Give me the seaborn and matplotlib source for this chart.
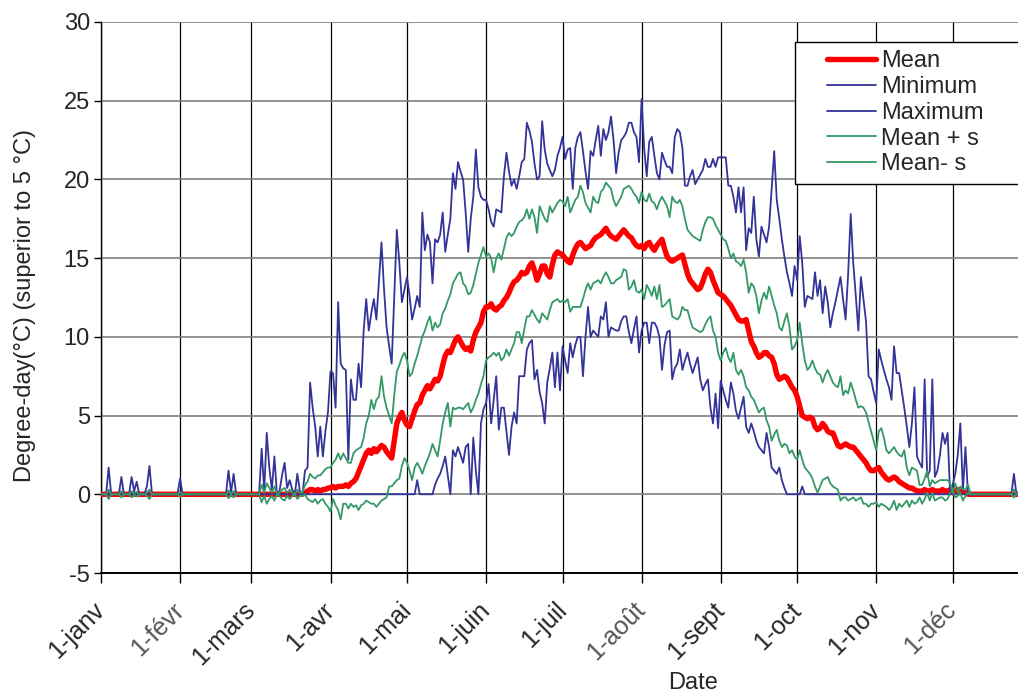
import numpy as np
import matplotlib
matplotlib.use("Agg")
import matplotlib.pyplot as plt
from matplotlib.lines import Line2D
from matplotlib.legend_handler import HandlerLine2D
import seaborn as sns

# Calendar axis: first day of each month (day-of-year index, 0 = 1 January)
month_starts = [0, 31, 59, 90, 120, 151, 181, 212, 243, 273, 304, 334]
month_labels = ["1-janv", "1-févr", "1-mars", "1-avr", "1-mai", "1-juin",
                "1-juil", "1-août", "1-sept", "1-oct", "1-nov", "1-déc"]

# Daily degree-days above 5 °C, one value per day of the year
mean_dd = [
    # janv
    0, 0, 0, 0, 0, 0, 0, 0, 0, 0, 0, 0, 0, 0, 0, 0, 0, 0, 0, 0,
    0, 0, 0, 0, 0, 0, 0, 0, 0, 0, 0,
    # févr
    0, 0, 0, 0, 0, 0, 0, 0, 0, 0, 0, 0, 0, 0, 0, 0, 0, 0, 0, 0,
    0, 0, 0, 0, 0, 0, 0, 0,
    # mars
    0, 0, 0, 0, 0, 0, 0, 0, 0, 0, 0, 0, 0, 0, 0, 0, 0, 0, 0, 0, 0,
    0.1, 0.2, 0.3, 0.3, 0.2, 0.3, 0.2, 0.3, 0.3, 0.4,
    # avr
    0.4, 0.5, 0.4, 0.5, 0.5, 0.5, 0.6, 0.5, 0.7, 0.8,
    1.0, 1.4, 1.8, 2.2, 2.6, 2.8, 2.6, 2.9, 2.7, 2.9,
    3.1, 3.0, 2.7, 2.5, 2.3, 3.4, 4.5, 4.9, 5.2, 4.7,
    # mai
    4.4, 4.3, 4.8, 5.3, 5.7, 5.8, 6.3, 6.6, 6.9, 6.7,
    7.0, 7.3, 7.2, 7.5, 8.2, 8.8, 9.1, 9.0, 9.4, 9.8,
    10.0, 9.7, 9.4, 9.2, 9.3, 9.1, 9.8, 10.3, 10.6, 10.9, 11.6,
    # juin
    11.9, 11.9, 12.1, 11.8, 11.7, 11.9, 12.0, 12.3, 12.5, 12.8,
    13.2, 13.5, 13.6, 13.8, 14.1, 14.0, 14.1, 14.5, 14.7, 14.2,
    13.6, 14.0, 14.5, 14.5, 14.0, 13.8, 14.6, 15.2, 15.4, 15.3,
    # juil
    15.2, 15.0, 14.8, 14.7, 15.2, 15.6, 15.9, 16.0, 15.8, 15.6,
    15.7, 15.8, 16.1, 16.3, 16.4, 16.5, 16.7, 16.9, 16.6, 16.4,
    16.3, 16.2, 16.4, 16.6, 16.8, 16.6, 16.4, 16.3, 16.0, 15.8, 15.7,
    # août
    15.8, 15.6, 15.9, 16.0, 15.7, 15.5, 15.8, 16.0, 16.2, 15.6,
    15.1, 14.9, 14.8, 14.9, 15.0, 15.1, 15.2, 14.6, 14.0, 13.6,
    13.4, 13.2, 13.0, 13.1, 13.5, 14.0, 14.3, 14.1, 13.6, 13.2, 12.8,
    # sept
    12.7, 12.6, 12.4, 12.2, 12.0, 11.7, 11.4, 11.1, 11.0, 11.0,
    11.1, 10.4, 9.7, 9.4, 9.0, 8.7, 8.8, 9.0, 9.0, 8.8,
    8.7, 8.3, 7.6, 7.3, 7.4, 7.5, 7.4, 7.1, 6.8, 6.6,
    # oct
    6.2, 5.6, 5.0, 4.9, 4.8, 4.9, 4.8, 4.3, 4.1, 4.2,
    4.5, 4.3, 4.0, 3.9, 3.9, 3.5, 3.1, 3.0, 3.1, 3.2,
    3.1, 3.0, 3.0, 2.8, 2.6, 2.4, 2.2, 2.0, 1.7, 1.5, 1.5,
    # nov
    1.6, 1.7, 1.4, 1.2, 1.0, 0.9, 1.0, 1.1, 1.0, 0.8,
    0.7, 0.6, 0.5, 0.4, 0.4, 0.3, 0.2, 0.2, 0.2, 0.3,
    0.2, 0.2, 0.3, 0.2, 0.2, 0.2, 0.3, 0.2, 0.2, 0.3,
    # déc
    0.1, 0.2, 0.3, 0.1, 0.2, 0.1, 0, 0, 0, 0,
    0, 0, 0, 0, 0, 0, 0, 0, 0, 0,
    0, 0, 0, 0, 0, 0, 0, 0, 0, 0, 0,
]

min_dd = [
    # janv
    0, 0, 0, 0, 0, 0, 0, 0, 0, 0, 0, 0, 0, 0, 0, 0, 0, 0, 0, 0,
    0, 0, 0, 0, 0, 0, 0, 0, 0, 0, 0,
    # févr
    0, 0, 0, 0, 0, 0, 0, 0, 0, 0, 0, 0, 0, 0, 0, 0, 0, 0, 0, 0,
    0, 0, 0, 0, 0, 0, 0, 0,
    # mars
    0, 0, 0, 0, 0, 0, 0, 0, 0, 0, 0, 0, 0, 0, 0, 0, 0, 0, 0, 0,
    0, 0, 0, 0, 0, 0, 0, 0, 0, 0, 0,
    # avr
    0, 0, 0, 0, 0, 0, 0, 0, 0, 0, 0, 0, 0, 0, 0, 0, 0, 0, 0, 0,
    0, 0, 0, 0, 0, 0, 0, 0, 0, 0,
    # mai
    0, 0, 0, 0, 0.9, 0, 0, 0, 0, 0,
    0, 0.6, 1.0, 1.3, 1.8, 2.4, 1.2, 0.0, 2.8, 2.4,
    3.0, 2.5, 2.0, 3.0, 3.2, 0.0, 3.6, 1.5, 0.0, 4.5, 5.4,
    # juin
    5.8, 7.0, 4.5, 6.0, 7.5, 4.1, 5.5, 5.5, 4.0, 2.5,
    4.3, 5.2, 4.5, 7.5, 7.5, 7.5, 9.2, 9.6, 9.8, 7.3,
    7.9, 6.5, 5.8, 4.5, 7.1, 8.0, 9.0, 6.8, 9.0, 6.6,
    # juil
    9.4, 8.5, 7.7, 9.6, 8.7, 9.5, 10.0, 10.0, 7.5, 10.0,
    11.9, 10.0, 10.4, 10.2, 10.0, 11.3, 11.1, 12.2, 10.0, 10.6,
    10.5, 10.4, 10.4, 11.0, 11.3, 11.3, 10.3, 9.6, 10.5, 11.3, 9.0,
    # août
    10.4, 10.9, 10.9, 9.6, 10.9, 10.9, 10.6, 10.0, 7.9, 9.5,
    10.3, 10.4, 7.3, 8.0, 8.3, 9.2, 7.9, 8.5, 9.0, 8.3,
    7.7, 8.2, 8.7, 7.3, 6.6, 7.0, 7.3, 5.5, 4.5, 6.4, 4.2,
    # sept
    7.2, 6.6, 6.0, 5.5, 7.1, 6.4, 5.3, 4.8, 5.5, 6.2,
    4.3, 3.9, 4.5, 4.0, 3.4, 3.0, 2.8, 2.6, 3.9, 3.0,
    1.7, 1.5, 1.3, 1.7, 0.9, 0.4, 0, 0, 0, 0,
    # oct
    0, 0, 0.5, 0, 0, 0, 0, 0, 0, 0,
    0, 0, 0, 0, 0, 0, 0, 0, 0, 0,
    0, 0, 0, 0, 0, 0, 0, 0, 0, 0, 0,
    # nov
    0, 0, 0, 0, 0, 0, 0, 0, 0, 0, 0, 0, 0, 0, 0, 0, 0, 0, 0, 0,
    0, 0, 0, 0, 0, 0, 0, 0, 0, 0,
    # déc
    0, 0, 0, 0, 0, 0, 0, 0, 0, 0, 0, 0, 0, 0, 0, 0, 0, 0, 0, 0,
    0, 0, 0, 0, 0, 0, 0, 0, 0, 0, 0,
]

max_dd = [
    # janv
    0, 0, 0, 1.7, 0, 0, 0, 0, 1.1, 0,
    0, 0, 1.1, 0.2, 0.8, 0, 0, 0, 0.5, 1.8,
    0, 0, 0, 0, 0, 0, 0, 0, 0, 0, 0,
    # févr
    1.0, 0, 0, 0, 0, 0, 0, 0, 0, 0, 0, 0, 0, 0, 0, 0, 0, 0, 0,
    1.5, 0.1, 1.3, 0, 0, 0, 0, 0, 0,
    # mars
    0, 0, 0, 0, 2.9, 0.2, 3.9, 1.7, 0.3, 2.4,
    0.0, 0.2, 1.2, 2.0, 0.4, 0.9, 0.3, 0.0, 1.3, 0.2,
    0.0, 1.5, 1.7, 7.1, 5.5, 4.3, 2.4, 4.3, 2.4, 4.0, 5.2,
    # avr
    7.8, 7.7, 5.5, 12.2, 8.3, 8.0, 7.9, 2.2, 7.3, 6.0,
    6.0, 8.3, 6.8, 10.4, 12.4, 10.4, 11.5, 12.4, 11.1, 13.6,
    16.0, 13.0, 10.6, 9.4, 8.3, 12.5, 16.8, 14.7, 12.2, 13.0,
    # mai
    13.8, 12.6, 11.1, 11.8, 12.6, 11.9, 17.9, 15.5, 16.5, 16.0,
    13.4, 16.2, 16.0, 16.5, 17.9, 15.4, 16.5, 17.5, 20.4, 19.4,
    21.1, 20.5, 20.0, 17.9, 15.4, 17.5, 18.9, 21.9, 19.5, 18.9, 18.7,
    # juin
    18.7, 18.1, 17.3, 17.0, 18.1, 18.0, 17.9, 20.2, 21.7, 20.5,
    19.6, 20.0, 19.4, 20.2, 21.1, 21.3, 23.6, 23.1, 22.4, 21.0,
    20.0, 20.2, 23.7, 21.9, 21.0, 20.6, 20.2, 20.6, 21.5, 22.0,
    # juil
    22.7, 21.3, 21.9, 22.0, 19.4, 22.0, 22.7, 23.0, 21.8, 20.5,
    19.4, 21.8, 21.5, 22.5, 23.4, 21.5, 23.2, 22.5, 23.0, 24.0,
    22.5, 20.4, 21.7, 22.5, 22.7, 23.0, 23.6, 23.6, 23.0, 22.7, 21.1,
    # août
    25.1, 22.0, 20.2, 22.4, 22.7, 21.5, 20.4, 20.0, 21.7, 21.2,
    20.8, 20.8, 20.4, 22.7, 23.2, 23.0, 22.0, 19.6, 19.6, 20.2,
    20.6, 19.7, 20.0, 20.3, 20.6, 21.3, 20.8, 20.8, 21.3, 20.8, 21.4,
    # sept
    21.4, 21.4, 21.4, 19.6, 19.6, 18.9, 17.9, 19.5, 17.9, 19.5,
    15.5, 16.9, 16.6, 18.9, 16.2, 15.1, 17.0, 16.5, 16.0, 17.0,
    19.4, 21.8, 18.7, 17.5, 16.2, 15.1, 14.1, 13.4, 12.6, 14.5,
    # oct
    13.6, 16.4, 14.7, 11.9, 12.6, 12.5, 12.4, 14.1, 12.6, 13.6,
    11.5, 13.2, 12.2, 10.6, 11.5, 12.2, 13.0, 13.8, 12.4, 11.1,
    14.0, 17.8, 14.7, 12.6, 10.4, 13.8, 12.4, 11.0, 7.5, 7.3, 6.5,
    # nov
    5.8, 9.2, 8.5, 7.9, 7.3, 6.8, 6.0, 9.4, 7.7, 7.7,
    6.6, 5.5, 4.3, 3.0, 4.5, 6.8, 2.4, 2.0, 1.7, 7.3,
    1.1, 1.5, 7.3, 1.1, 1.5, 2.5, 3.9, 3.2, 3.9, 0.0,
    # déc
    0.6, 1.3, 2.5, 4.5, 0.2, 3.0, 0, 0, 0, 0,
    0, 0, 0, 0, 0, 0, 0, 0, 0, 0,
    0, 0, 0, 0, 1.3, 0, 0, 0, 0, 0, 0,
]

mean_plus_s = [
    # janv
    0, 0, 0, 0.3, 0, 0, 0, 0, 0.2, 0,
    0, 0, 0.2, 0.05, 0.15, 0, 0, 0, 0.1, 0.3,
    0, 0, 0, 0, 0, 0, 0, 0, 0, 0, 0,
    # févr
    0.15, 0, 0, 0, 0, 0, 0, 0, 0, 0, 0, 0, 0, 0, 0, 0, 0, 0, 0,
    0.25, 0.02, 0.2, 0, 0, 0, 0, 0, 0,
    # mars
    0, 0, 0, 0, 0.6, 0.1, 0.7, 0.4, 0.1, 0.5,
    0.0, 0.1, 0.3, 0.4, 0.1, 0.3, 0.1, 0.0, 0.3, 0.1,
    0.1, 0.6, 0.8, 1.3, 1.1, 1.0, 1.2, 1.2, 1.4, 1.6, 1.7,
    # avr
    1.7, 2.0, 2.2, 2.6, 2.2, 2.6, 2.3, 2.0, 2.0, 2.6,
    2.8, 2.9, 3.0, 3.6, 4.5, 5.0, 6.0, 5.4, 6.0, 6.2,
    7.5, 6.2, 5.5, 5.0, 4.5, 6.3, 7.8, 8.2, 8.7, 9.0,
    # mai
    8.5, 7.5, 7.7, 8.3, 8.8, 9.4, 10.0, 10.4, 10.9, 11.3,
    10.4, 10.9, 10.6, 10.8, 11.5, 11.8, 12.3, 12.7, 13.4, 13.7,
    14.0, 14.1, 13.4, 13.2, 12.7, 12.8, 13.3, 14.0, 14.7, 15.2, 15.7,
    # juin
    15.1, 15.3, 15.0, 14.1, 15.0, 15.3, 14.9, 15.6, 16.3, 16.6,
    16.4, 16.6, 17.0, 17.3, 17.4, 17.6, 18.1, 17.5, 18.1, 17.6,
    16.6, 18.3, 17.9, 17.5, 17.3, 18.3, 17.9, 18.2, 18.5, 18.7,
    # juil
    18.6, 18.3, 18.9, 17.9, 18.3, 18.7, 18.9, 19.6, 19.2, 18.5,
    18.2, 17.9, 18.9, 18.6, 18.5, 19.2, 19.4, 19.8, 19.6, 19.4,
    18.7, 18.3, 18.6, 18.9, 19.4, 19.5, 19.6, 19.4, 19.1, 18.9, 18.5,
    # août
    19.2, 18.7, 18.6, 19.1, 18.6, 18.5, 18.1, 18.6, 18.9, 18.6,
    18.3, 17.6, 18.9, 18.6, 18.5, 18.7, 18.3, 17.5, 16.8, 16.6,
    16.4, 16.3, 16.2, 16.1, 16.8, 17.3, 17.6, 17.6, 17.5, 17.1, 16.8,
    # sept
    16.5, 16.2, 16.1, 15.6, 15.0, 15.3, 14.8, 14.7, 14.5, 14.9,
    14.1, 12.8, 13.4, 13.2, 12.6, 11.5, 12.3, 12.8, 12.4, 13.2,
    12.6, 12.0, 11.5, 10.6, 10.4, 11.0, 11.5, 10.6, 9.2, 9.4,
    # oct
    9.8, 10.9, 9.6, 8.5, 7.9, 8.1, 8.5, 8.0, 7.7, 7.6,
    7.1, 7.6, 7.9, 7.5, 7.1, 6.9, 6.8, 7.5, 6.3, 6.6,
    6.4, 7.1, 6.6, 6.0, 5.5, 5.6, 5.5, 5.2, 4.6, 4.0, 3.4,
    # nov
    2.8, 4.0, 4.2, 3.6, 2.8, 2.6, 2.8, 3.0, 2.7, 2.5,
    2.4, 2.8, 1.7, 1.2, 1.7, 1.6, 1.5, 0.6, 0.6, 1.0,
    1.5, 0.5, 0.9, 0.7, 0.8, 0.9, 0.9, 0.9, 0.9, 0.7,
    # déc
    0.1, 0.7, 0.1, 0.5, 0.3, 0.3, 0.6, 0, 0, 0,
    0, 0, 0, 0, 0, 0, 0, 0, 0, 0,
    0, 0, 0, 0, 0.3, 0, 0, 0, 0, 0, 0,
]

mean_minus_s = [
    # janv
    0, 0, 0, -0.3, 0, 0, 0, 0, -0.2, 0,
    0, 0, -0.2, -0.05, -0.15, 0, 0, 0, -0.1, -0.3,
    0, 0, 0, 0, 0, 0, 0, 0, 0, 0, 0,
    # févr
    -0.15, 0, 0, 0, 0, 0, 0, 0, 0, 0, 0, 0, 0, 0, 0, 0, 0, 0, 0,
    -0.25, -0.02, -0.2, 0, 0, 0, 0, 0, 0,
    # mars
    0, 0, 0, 0, -0.5, -0.1, -0.6, -0.3, -0.1, -0.4,
    0.0, -0.1, -0.3, -0.4, -0.1, -0.3, -0.1, 0.0, -0.3, -0.1,
    -0.1, 0.0, -0.3, -0.4, -0.5, -0.3, -0.6, -0.4, -0.3, -0.6, -0.8,
    # avr
    -1.1, -0.3, -0.7, -1.0, -1.6, -0.6, -0.6, -0.9, -0.6, -0.8,
    -0.7, -1.0, -0.7, -0.6, -0.4, -0.5, -0.6, -0.6, -0.8, -0.6,
    -0.4, -0.3, -0.2, 0.5, 0.5, 0.7, 0.9, 1.0, 1.8, 2.3,
    # mai
    2.0, 1.5, 0.9, 1.7, 2.0, 1.7, 1.3, 1.8, 2.2, 2.6,
    3.2, 2.8, 2.4, 3.4, 4.5, 5.2, 5.8, 4.3, 5.5, 5.4,
    5.5, 5.5, 5.4, 5.6, 5.8, 5.2, 5.5, 6.0, 6.4, 7.0, 7.5,
    # juin
    8.5, 8.7, 8.8, 9.0, 8.8, 9.0, 8.5, 8.7, 9.2, 8.8,
    9.2, 9.6, 10.3, 10.3, 9.6, 10.5, 11.3, 11.3, 11.7, 11.4,
    11.1, 10.9, 11.5, 11.3, 11.1, 11.7, 12.2, 12.3, 12.4, 12.2,
    # juil
    12.3, 12.2, 12.4, 11.6, 11.9, 11.9, 11.9, 11.9, 12.4, 13.0,
    13.4, 13.0, 13.4, 13.5, 13.6, 13.4, 13.8, 14.1, 13.8, 13.4,
    13.4, 13.6, 13.7, 13.8, 14.3, 14.2, 13.0, 13.2, 13.6, 12.9, 12.8,
    # août
    13.0, 12.4, 13.3, 13.0, 12.6, 13.2, 12.4, 13.3, 11.9, 12.0,
    12.2, 12.4, 11.3, 11.2, 11.1, 11.3, 11.9, 11.7, 11.7, 11.1,
    10.6, 10.5, 10.4, 10.3, 10.4, 10.8, 11.1, 11.3, 10.4, 10.0, 9.0,
    # sept
    8.5, 9.0, 9.3, 8.7, 8.4, 9.0, 7.9, 7.6, 7.9, 7.5,
    6.8, 6.6, 6.2, 6.0, 5.6, 5.2, 5.4, 5.5, 4.7, 4.3,
    3.4, 3.8, 4.1, 3.4, 3.0, 3.2, 3.1, 2.6, 2.8, 2.4,
    # oct
    2.2, 2.8, 2.2, 1.7, 1.5, 1.3, 1.0, 0.5, 0.1, 0.5,
    0.9, 1.0, 1.1, 0.7, 0.5, 0.4, 0.3, -0.4, -0.2, -0.2,
    -0.4, -0.3, -0.2, -0.4, -0.3, -0.2, -0.6, -0.6, -0.8, -0.6, -0.6,
    # nov
    -0.5, -0.8, -0.6, -0.7, -0.8, -1.0, -0.8, -0.4, -1.0, -0.6,
    -0.8, -0.6, -0.4, -0.8, -0.4, -0.6, -0.5, -0.2, -0.6, -0.3,
    0.1, -0.4, 0.1, -0.4, -0.3, -0.2, -0.2, -0.4, -0.3, 0.1,
    # déc
    0.3, -0.2, -0.1, 0.1, -0.4, -0.1, 0.1, 0, 0, 0,
    0, 0, 0, 0, 0, 0, 0, 0, 0, 0,
    0, 0, 0, 0, -0.2, 0, 0, 0, 0, 0, 0,
]

days = np.arange(len(mean_dd))

series = [
    ("Mean", mean_dd, "#FF0000", 3.9),
    ("Minimum", min_dd, "#333399", 1.3),
    ("Maximum", max_dd, "#333399", 1.3),
    ("Mean + s", mean_plus_s, "#339966", 1.3),
    ("Mean- s", mean_minus_s, "#339966", 1.3),
]

sns.set_theme(style="white")
plt.rcParams["font.family"] = ["Liberation Sans", "DejaVu Sans"]
plt.rcParams["axes.unicode_minus"] = False

W, H = 1018, 698
fig = plt.figure(figsize=(W / 100, H / 100), dpi=100)
ax = fig.add_axes([101 / W, 1 - 573 / H, (W - 101) / W, (573 - 22) / H])

for z, (label, values, color, lw) in enumerate(series):
    sns.lineplot(x=days, y=values, ax=ax, color=color, linewidth=lw,
                 label=label, errorbar=None, sort=False, zorder=3 + z,
                 solid_joinstyle="round", solid_capstyle="round")

ax.set_xlim(0, (W - 101) / 2.55)
ax.set_ylim(-5, 30)
ax.set_yticks(range(-5, 31, 5))
ax.set_xticks(month_starts)
ax.set_xticklabels(month_labels, rotation=45, ha="right", va="center",
                   rotation_mode="anchor")
for lbl in ax.get_xticklabels():
    if lbl.get_text() in ("1-févr", "1-août", "1-déc"):
        lbl.set_color("#555555")

ax.grid(False)
ax.yaxis.grid(True, color="#7f7f7f", linewidth=1.2, zorder=0)
ax.xaxis.grid(True, color="black", linewidth=0.9, zorder=0)
ax.set_axisbelow(True)

for side in ("top", "right"):
    ax.spines[side].set_visible(False)
ax.spines["left"].set_color("black")
ax.spines["left"].set_linewidth(1.0)
ax.spines["bottom"].set_color("black")
ax.spines["bottom"].set_linewidth(1.4)

ax.tick_params(axis="y", which="major", direction="out", length=5, width=1,
               color="black", labelsize=17, pad=3, left=True)
ax.tick_params(axis="x", which="major", direction="out", length=7, width=1,
               color="black", labelsize=18, pad=17, bottom=True)

ax.set_xlabel("Date", fontsize=17)
ax.xaxis.set_label_coords((693 - 101) / (W - 101), (573 - 683) / (573 - 22))
ax.xaxis.label.set_va("center")
ax.set_ylabel("Degree-day(°C) (superior to 5 °C)", fontsize=17, va="center")
ax.yaxis.set_label_coords((25 - 101) / (W - 101), (573 - 305) / (573 - 22))

handles, labels = ax.get_legend_handles_labels()
leg = ax.legend(handles, labels, loc="upper left",
                bbox_to_anchor=(795 / W, 1 - 187 / H, 0.3, 145 / H),
                bbox_transform=fig.transFigure, mode="expand",
                borderaxespad=0, fontsize=17, frameon=True, fancybox=False,
                shadow=False, framealpha=1, edgecolor="black", borderpad=0.35,
                handlelength=3.1, handletextpad=0.2, labelspacing=0.16,
                handler_map={Line2D: HandlerLine2D(xpad=1.0)})
leg.get_frame().set_linewidth(1.0)
leg.set_zorder(20)

fig.savefig("out.png", dpi=100)
